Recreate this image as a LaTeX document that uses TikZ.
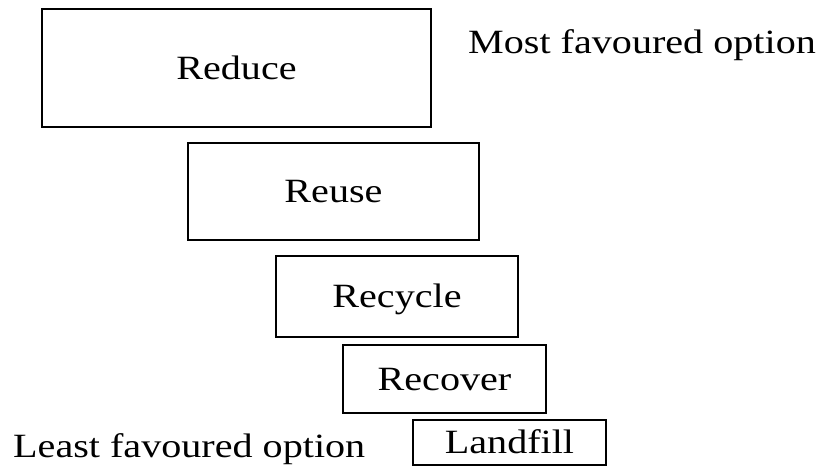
\documentclass[tikz,border=0pt]{standalone}
\usepackage{fontspec}
\setmainfont{Liberation Serif}[FakeStretch=1.18]
\begin{document}
\begin{tikzpicture}[x=1pt,y=-1pt,
	option/.style={draw, line width=1.2pt, inner sep=0pt, font=\fontsize{34}{40}\selectfont, text height=22pt, text depth=0pt},
	side/.style={inner sep=0pt, font=\fontsize{34}{40}\selectfont}]

\useasboundingbox (0,0) rectangle (823,467);

\node[option, minimum width=389pt, minimum height=118pt] (reduce) at (236.5,68) {Reduce};

\node[option, minimum width=291pt, minimum height=97pt] (reuse) at (333.5,191.5) {Reuse};

\node[option, minimum width=242pt, minimum height=81pt] (recycle) at (397,296.5) {Recycle};

\node[option, minimum width=203pt, minimum height=68pt] (recover) at (444.5,379) {Recover};

\node[option, minimum width=193pt, minimum height=45pt] (landfill) at (509.5,442.5) {Landfill};

\node[side, anchor=base west] (most) at (468,53) {Most favoured option};
\node[side, anchor=base west] (least) at (13,457) {Least favoured option};

\end{tikzpicture}
\end{document}
